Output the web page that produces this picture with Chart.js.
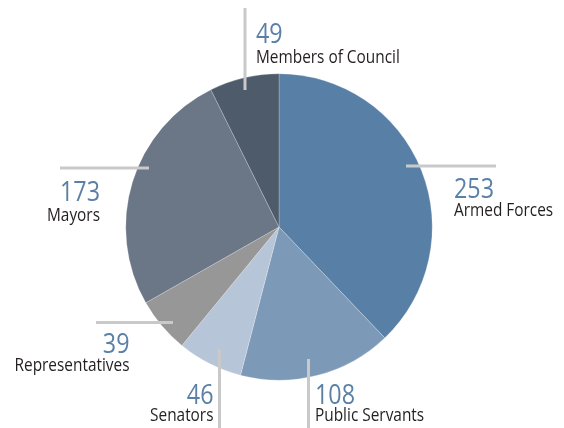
<!DOCTYPE html>
<html>
<head>
<meta charset="utf-8">
<script src="https://cdn.jsdelivr.net/npm/chart.js@4"></script>
<style>
html,body{margin:0;padding:0;background:#fff;}
#c{display:block;}
</style>
</head>
<body>
<canvas id="c" width="564" height="428"></canvas>
<script>
// ---- data ----
const categories = ["Armed Forces", "Public Servants", "Senators", "Representatives", "Mayors", "Members of Council"];
const counts = [253, 108, 46, 39, 173, 49];
const sliceColors = ["#5880a6", "#7d99b8", "#b7c5d8", "#979797", "#6b7686", "#4e5b6b"];

// ---- label layout (positions only) ----
const labelLayout = [
  {line:[406,166,496,166], align:"left",  x:454, ny:198, ly:216},
  {line:[308.5,359,308.5,428], align:"left", x:315, ny:404, ly:421},
  {line:[219.5,349,219.5,428], align:"right", x:213.5, ny:404, ly:421},
  {line:[96,322.5,173,322.5], align:"right", x:129.5, ny:353, ly:371},
  {line:[60,168,149,168], align:"right", x:100, ny:201, ly:220.5},
  {line:[245,8,245,90], align:"left", x:256, ny:43, ly:62.5}
];

const NUM_FONT = '27px "Open Sans", "Liberation Sans", sans-serif';
const LAB_FONT = '19px "Open Sans", "Liberation Sans", sans-serif';

function drawScaled(ctx, text, x, y, align, sx) {
  ctx.save();
  ctx.translate(x, y);
  ctx.scale(sx, 1);
  ctx.textAlign = align;
  ctx.fillText(text, 0, 0);
  ctx.restore();
}

const labelPlugin = {
  id: "leaderLabels",
  afterDatasetsDraw(chart) {
    const ctx = chart.ctx;
    const meta = chart.getDatasetMeta(0);
    ctx.save();
    ctx.textBaseline = "alphabetic";
    ctx.font = NUM_FONT;
    const numScale = 40 / ctx.measureText("253").width;
    ctx.font = LAB_FONT;
    const labScale = 115 / ctx.measureText("Representatives").width;
    meta.data.forEach((arc, i) => {
      const L = labelLayout[i];
      ctx.strokeStyle = "#c9c9c9";
      ctx.lineWidth = 3;
      ctx.beginPath();
      ctx.moveTo(L.line[0], L.line[1]);
      ctx.lineTo(L.line[2], L.line[3]);
      ctx.stroke();
      ctx.fillStyle = "#5a80a8";
      ctx.font = NUM_FONT;
      drawScaled(ctx, String(chart.data.datasets[0].data[i]), L.x, L.ny, L.align, numScale);
      ctx.fillStyle = "#231f20";
      ctx.font = LAB_FONT;
      drawScaled(ctx, chart.data.labels[i], L.x, L.ly, L.align, labScale);
    });
    ctx.restore();
  }
};

new Chart(document.getElementById("c"), {
  type: "pie",
  data: {
    labels: categories,
    datasets: [{
      data: counts,
      backgroundColor: sliceColors,
      borderColor: "rgba(255,255,255,0.45)",
      borderWidth: 0.5
    }]
  },
  options: {
    responsive: false,
    animation: false,
    layout: { padding: { left: 125.5, right: 131.5, top: 73.5, bottom: 47.5 } },
    plugins: { legend: { display: false }, tooltip: { enabled: false } }
  },
  plugins: [labelPlugin]
});
</script>
</body>
</html>
